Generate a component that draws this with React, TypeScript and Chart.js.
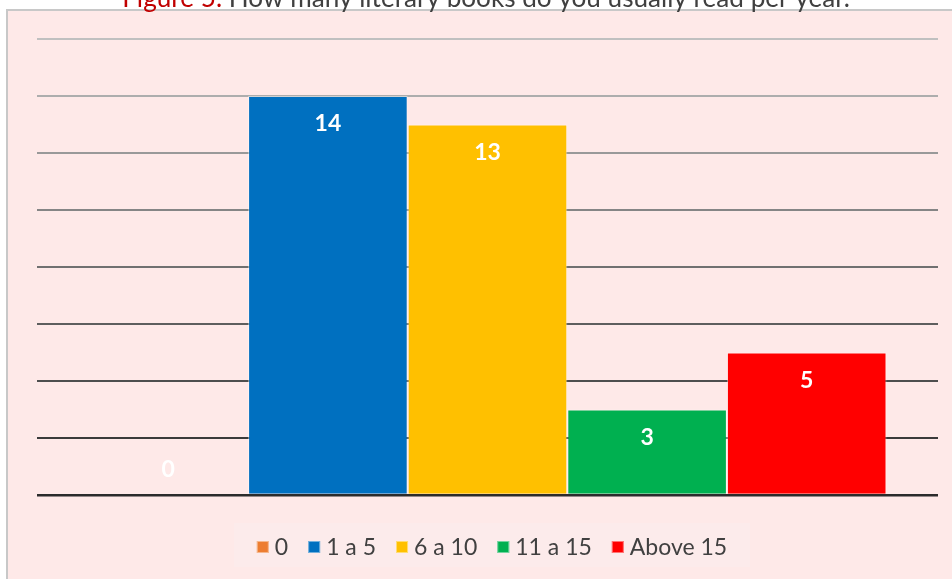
import React, { useEffect, useRef } from "react";
import { Chart, registerables } from "chart.js";

Chart.register(...registerables);

const categories = [""];
const seriesNames = ["0", "1 a 5", "6 a 10", "11 a 15", "Above 15"];
const seriesValues = [0, 14, 13, 3, 5];
const seriesColors = ["#ED7D31", "#0070C0", "#FFC000", "#00B050", "#FF0000"];
const titlePrefix = "Figure 5.";
const titleRest = " How many literary books do you usually read per year.";
const yMax = 16;
const yStep = 2;

const FONT = "Lato, 'Open Sans', sans-serif";

const framePlugin = {
  id: "frame",
  beforeDraw(chart: any) {
    const { ctx, width, height } = chart;
    ctx.save();
    ctx.fillStyle = "#FFFFFF";
    ctx.fillRect(0, 0, width, height);
    ctx.fillStyle = "#FEE9E8";
    ctx.fillRect(8, 11, width - 8, height - 11);
    ctx.strokeStyle = "#C8C8C8";
    ctx.lineWidth = 2;
    ctx.beginPath();
    ctx.moveTo(7, height);
    ctx.lineTo(7, 10);
    ctx.lineTo(width, 10);
    ctx.stroke();
    // title, sized to span the same width as the reference title
    let size = 24;
    ctx.font = `${size}px ${FONT}`;
    const full = ctx.measureText(titlePrefix + titleRest).width;
    size = size * (728 / full);
    ctx.font = `${size}px ${FONT}`;
    const w1 = ctx.measureText(titlePrefix).width;
    const w2 = ctx.measureText(titleRest).width;
    const total = w1 + w2;
    const x0 = 486 - total / 2;
    ctx.textBaseline = "alphabetic";
    ctx.textAlign = "left";
    ctx.fillStyle = "#C00000";
    ctx.fillText(titlePrefix, x0, 7);
    ctx.fillStyle = "#404040";
    ctx.fillText(titleRest, x0 + w1, 7);
    ctx.restore();
  },
};

const labelsPlugin = {
  id: "barLabels",
  afterDatasetsDraw(chart: any) {
    const { ctx } = chart;
    ctx.save();
    ctx.font = `bold 23px ${FONT}`;
    ctx.fillStyle = "#FFFFFF";
    ctx.textAlign = "center";
    ctx.textBaseline = "middle";
    chart.data.datasets.forEach((ds: any, i: number) => {
      const meta = chart.getDatasetMeta(i);
      meta.data.forEach((bar: any, j: number) => {
        const v = ds.data[j];
        const y = v > 0 ? bar.y + 28 : bar.base - 25;
        ctx.fillText(String(v), bar.x, y);
      });
    });
    ctx.restore();
  },
};

const legendPlugin = {
  id: "customLegend",
  afterDraw(chart: any) {
    const { ctx } = chart;
    ctx.save();
    const size = 23;
    ctx.font = `${size}px ${FONT}`;
    const box = 12;
    const gapText = 6;
    const gapItem = 20;
    const names = chart.data.datasets.map((d: any) => d.label);
    const widths = names.map((n: string) => ctx.measureText(n).width);
    let total = 0;
    widths.forEach((w: number, i: number) => {
      total += box + gapText + w + (i < widths.length - 1 ? gapItem : 0);
    });
    const cx = 492;
    const cy = 547;
    ctx.fillStyle = "#FCEBEB";
    ctx.fillRect(cx - total / 2 - 23, 523, total + 46, 44);
    let x = cx - total / 2;
    chart.data.datasets.forEach((d: any, i: number) => {
      ctx.fillStyle = d.backgroundColor;
      ctx.fillRect(x, cy - box / 2, box, box);
      ctx.strokeStyle = "rgba(255,255,255,0.45)";
      ctx.lineWidth = 1;
      ctx.strokeRect(x + 0.5, cy - box / 2 + 0.5, box - 1, box - 1);
      ctx.fillStyle = "#404040";
      ctx.textAlign = "left";
      ctx.textBaseline = "middle";
      ctx.fillText(names[i], x + box + gapText, cy + 1);
      x += box + gapText + widths[i] + gapItem;
    });
    ctx.restore();
  },
};

const gridColors = ["#2B2B2B", "#3A3A3A", "#4E4E4E", "#5E5E5E", "#707070", "#858585", "#999999", "#ADADAD", "#C0C0C0"];

export default function App() {
  const ref = useRef<HTMLCanvasElement | null>(null);
  useEffect(() => {
    document.body.style.margin = "0";
    if (!ref.current) return;
    const chart = new Chart(ref.current, {
      type: "bar",
      data: {
        labels: categories,
        datasets: seriesNames.map((name, i) => ({
          label: name,
          data: [seriesValues[i]],
          backgroundColor: seriesColors[i],
          borderColor: "rgba(255,255,255,0.45)",
          borderWidth: 1,
          barPercentage: 1,
          categoryPercentage: 0.8857,
        })),
      },
      options: {
        animation: false,
        responsive: true,
        maintainAspectRatio: false,
        layout: { padding: { left: 37, right: 14, top: 39, bottom: 84 } },
        plugins: {
          legend: { display: false },
          title: { display: false },
          tooltip: { enabled: false },
        },
        scales: {
          x: { display: false },
          y: {
            min: 0,
            max: yMax,
            ticks: { display: false, stepSize: yStep },
            grid: {
              drawTicks: false,
              tickLength: 0,
              color: (c: any) => gridColors[c.index] || "#C0C0C0",
              lineWidth: (c: any) => (c.index === 0 ? 2.5 : 2),
            },
            border: { display: false },
          },
        },
      },
      plugins: [framePlugin, labelsPlugin, legendPlugin],
    });
    return () => chart.destroy();
  }, []);
  return (
    <div style={{ position: "relative", width: 952, height: 579 }}>
      <canvas ref={ref} />
    </div>
  );
}
